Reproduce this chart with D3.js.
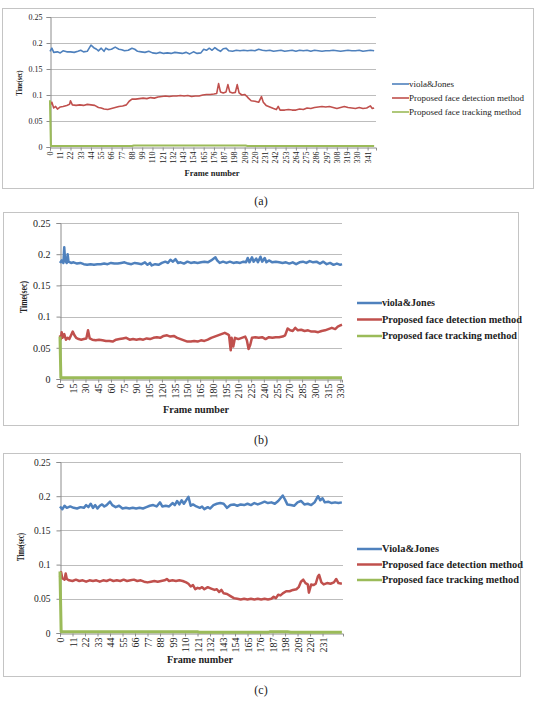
<!DOCTYPE html>
<html>
<head>
<meta charset="utf-8">
<script src="https://cdn.jsdelivr.net/npm/d3@7"></script>
<style>
  body { margin: 0; background: #fff; }
  svg { display: block; }
  text { font-family: "Liberation Serif", "Times New Roman", Times, "DejaVu Serif", serif; fill: #222; }
</style>
</head>
<body>
<svg id="fig" width="537" height="710"></svg>
<script>
// ---- data: [frame, time(sec)] ----
const seriesNames = ["viola&Jones", "Proposed face detection method", "Proposed face tracking method"];
const seriesNamesC = ["Viola&Jones", "Proposed face detection method", "Proposed face tracking method"];
const yTicks = [0, 0.05, 0.1, 0.15, 0.2, 0.25];

// panel (a)
const aTicks = d3.range(0, 342, 11);
const aBlue = [[0,0.184],[2,0.190],[4,0.182],[8,0.183],[11,0.181],[14,0.185],[18,0.183],[22,0.183],[26,0.182],[30,0.184],[33,0.186],[36,0.183],[40,0.184],[44,0.196],[47,0.191],[50,0.188],[52,0.185],[55,0.190],[58,0.184],[60,0.190],[63,0.187],[66,0.188],[70,0.192],[74,0.188],[77,0.187],[80,0.185],[84,0.186],[88,0.190],[91,0.188],[94,0.184],[98,0.183],[102,0.182],[106,0.184],[110,0.181],[114,0.180],[118,0.182],[122,0.180],[126,0.181],[130,0.180],[134,0.182],[138,0.181],[142,0.180],[146,0.182],[150,0.179],[154,0.183],[158,0.180],[162,0.181],[165,0.188],[168,0.186],[171,0.190],[174,0.186],[177,0.191],[180,0.187],[183,0.184],[186,0.189],[189,0.190],[192,0.185],[196,0.184],[200,0.186],[204,0.185],[208,0.186],[212,0.185],[216,0.186],[220,0.185],[224,0.188],[228,0.186],[232,0.185],[236,0.186],[240,0.184],[244,0.185],[248,0.186],[252,0.184],[256,0.185],[260,0.186],[264,0.184],[268,0.186],[272,0.185],[276,0.186],[280,0.184],[284,0.186],[288,0.185],[292,0.184],[296,0.185],[300,0.185],[304,0.186],[308,0.185],[312,0.184],[316,0.185],[320,0.186],[324,0.185],[328,0.185],[332,0.186],[336,0.184],[340,0.185],[344,0.186],[348,0.185]];
const aRed = [[0,0.080],[2,0.086],[4,0.075],[6,0.078],[8,0.073],[11,0.077],[14,0.078],[18,0.080],[21,0.082],[22,0.089],[24,0.081],[28,0.080],[32,0.081],[36,0.080],[40,0.082],[44,0.081],[48,0.080],[52,0.076],[55,0.075],[58,0.073],[62,0.072],[66,0.074],[70,0.076],[74,0.078],[78,0.079],[82,0.081],[85,0.088],[88,0.092],[92,0.092],[96,0.093],[100,0.094],[104,0.093],[108,0.095],[112,0.094],[116,0.096],[120,0.097],[124,0.098],[128,0.097],[132,0.098],[136,0.098],[140,0.099],[144,0.098],[148,0.099],[152,0.097],[156,0.098],[160,0.098],[164,0.100],[168,0.101],[172,0.101],[176,0.102],[179,0.103],[181,0.122],[183,0.106],[186,0.104],[189,0.106],[191,0.120],[193,0.106],[196,0.104],[199,0.105],[201,0.120],[203,0.104],[206,0.100],[209,0.101],[211,0.098],[213,0.094],[216,0.089],[220,0.088],[224,0.086],[227,0.097],[229,0.086],[232,0.080],[236,0.077],[240,0.074],[243,0.072],[245,0.078],[247,0.071],[252,0.071],[256,0.072],[260,0.071],[264,0.071],[268,0.073],[272,0.072],[276,0.075],[280,0.074],[284,0.076],[288,0.077],[292,0.078],[296,0.077],[300,0.078],[304,0.076],[308,0.074],[312,0.076],[316,0.078],[320,0.076],[324,0.075],[328,0.074],[332,0.076],[336,0.074],[340,0.075],[344,0.079],[346,0.074],[348,0.075]];
const aGreen = [[0,0.090],[1,0.002],[88,0.002],[90,0.003],[210,0.003],[212,0.002],[348,0.002]];

// panel (b)
const bTicks = d3.range(0, 331, 15);
const bBlue = [[0,0.186],[2,0.190],[4,0.186],[5,0.211],[6,0.190],[8,0.186],[9,0.200],[10,0.188],[13,0.186],[16,0.187],[20,0.185],[24,0.186],[28,0.184],[32,0.183],[36,0.184],[40,0.183],[44,0.184],[48,0.184],[52,0.185],[56,0.184],[60,0.186],[64,0.185],[68,0.185],[72,0.186],[76,0.187],[80,0.185],[84,0.184],[88,0.186],[92,0.185],[96,0.184],[100,0.187],[103,0.183],[106,0.186],[108,0.182],[112,0.184],[116,0.183],[120,0.186],[124,0.188],[127,0.186],[130,0.191],[133,0.188],[136,0.192],[139,0.186],[142,0.187],[146,0.185],[150,0.188],[154,0.186],[158,0.187],[162,0.186],[166,0.187],[170,0.188],[174,0.187],[178,0.190],[181,0.193],[183,0.195],[185,0.190],[188,0.186],[192,0.188],[196,0.186],[200,0.188],[204,0.186],[208,0.187],[212,0.186],[216,0.188],[219,0.187],[221,0.194],[223,0.187],[226,0.195],[228,0.188],[231,0.193],[233,0.187],[236,0.196],[238,0.188],[241,0.194],[243,0.187],[246,0.190],[250,0.187],[254,0.188],[258,0.187],[262,0.186],[266,0.187],[270,0.185],[274,0.187],[278,0.184],[282,0.187],[286,0.188],[290,0.186],[294,0.189],[298,0.187],[302,0.188],[306,0.185],[310,0.188],[314,0.184],[318,0.186],[322,0.183],[326,0.185],[330,0.183],[332,0.184]];
const bRed = [[0,0.070],[1,0.064],[2,0.075],[3,0.066],[5,0.072],[7,0.063],[9,0.066],[11,0.064],[13,0.070],[15,0.076],[17,0.070],[19,0.066],[22,0.064],[25,0.063],[28,0.064],[31,0.065],[33,0.078],[35,0.065],[38,0.063],[42,0.062],[46,0.063],[50,0.062],[54,0.061],[58,0.061],[62,0.060],[66,0.063],[70,0.064],[74,0.065],[78,0.066],[82,0.063],[86,0.064],[90,0.063],[94,0.064],[98,0.063],[102,0.065],[106,0.064],[110,0.066],[114,0.067],[118,0.066],[122,0.069],[126,0.070],[130,0.068],[134,0.069],[138,0.066],[142,0.064],[146,0.062],[150,0.060],[154,0.060],[158,0.061],[162,0.060],[166,0.062],[170,0.061],[174,0.063],[178,0.066],[182,0.068],[186,0.070],[190,0.072],[194,0.074],[197,0.072],[199,0.070],[201,0.046],[202,0.066],[204,0.052],[206,0.066],[210,0.064],[214,0.066],[218,0.068],[220,0.062],[222,0.048],[224,0.055],[226,0.066],[230,0.067],[234,0.066],[238,0.067],[242,0.064],[246,0.067],[250,0.066],[254,0.067],[258,0.067],[262,0.068],[265,0.070],[268,0.081],[271,0.078],[274,0.077],[277,0.082],[280,0.078],[284,0.079],[288,0.077],[292,0.078],[296,0.076],[300,0.076],[304,0.075],[308,0.077],[312,0.078],[316,0.080],[320,0.082],[324,0.080],[327,0.084],[330,0.086],[332,0.087]];
const bGreen = [[0,0.068],[1,0.002],[332,0.002]];

// panel (c)
const cTicks = d3.range(0, 232, 11);
const cBlue = [[0,0.185],[2,0.181],[4,0.186],[6,0.183],[9,0.185],[12,0.183],[15,0.182],[18,0.184],[21,0.183],[23,0.187],[25,0.184],[27,0.189],[29,0.183],[31,0.187],[33,0.182],[35,0.186],[37,0.188],[39,0.185],[41,0.187],[44,0.192],[46,0.187],[49,0.184],[52,0.186],[55,0.182],[58,0.183],[61,0.182],[64,0.183],[67,0.182],[70,0.183],[73,0.182],[76,0.184],[79,0.186],[82,0.187],[85,0.185],[88,0.191],[90,0.185],[93,0.186],[96,0.185],[99,0.190],[101,0.187],[103,0.193],[105,0.188],[107,0.194],[109,0.189],[113,0.199],[115,0.186],[117,0.188],[120,0.185],[123,0.183],[125,0.185],[127,0.181],[130,0.184],[132,0.182],[135,0.187],[138,0.189],[141,0.190],[144,0.189],[147,0.183],[150,0.187],[153,0.188],[156,0.186],[159,0.188],[162,0.187],[165,0.189],[168,0.187],[171,0.190],[174,0.188],[177,0.190],[180,0.192],[183,0.190],[186,0.191],[189,0.189],[192,0.193],[196,0.201],[198,0.195],[200,0.188],[203,0.187],[206,0.186],[209,0.191],[212,0.193],[215,0.188],[218,0.189],[221,0.187],[224,0.191],[227,0.200],[229,0.194],[231,0.197],[233,0.191],[236,0.192],[239,0.190],[242,0.191],[245,0.190],[248,0.191]];
const cRed = [[0,0.082],[1,0.089],[2,0.080],[4,0.078],[5,0.087],[6,0.079],[8,0.077],[11,0.076],[14,0.078],[17,0.076],[20,0.077],[23,0.075],[26,0.077],[29,0.076],[32,0.077],[35,0.075],[38,0.077],[41,0.076],[44,0.078],[47,0.076],[50,0.077],[53,0.076],[56,0.078],[59,0.076],[62,0.077],[65,0.078],[68,0.076],[71,0.077],[74,0.075],[77,0.074],[80,0.075],[83,0.076],[86,0.075],[89,0.076],[92,0.077],[94,0.079],[96,0.076],[99,0.077],[102,0.076],[105,0.077],[108,0.076],[111,0.074],[113,0.072],[115,0.068],[117,0.070],[119,0.064],[121,0.066],[123,0.065],[125,0.067],[127,0.064],[130,0.067],[133,0.065],[136,0.063],[138,0.064],[140,0.060],[142,0.063],[144,0.058],[147,0.057],[150,0.054],[153,0.051],[156,0.050],[159,0.049],[162,0.050],[165,0.049],[168,0.050],[171,0.049],[174,0.050],[177,0.049],[180,0.050],[183,0.049],[186,0.050],[188,0.053],[190,0.051],[192,0.056],[194,0.055],[196,0.058],[199,0.061],[202,0.061],[205,0.063],[208,0.064],[210,0.067],[212,0.075],[214,0.078],[216,0.073],[218,0.071],[219,0.059],[221,0.071],[223,0.070],[225,0.072],[227,0.083],[228,0.085],[230,0.074],[232,0.071],[235,0.073],[238,0.072],[241,0.074],[243,0.079],[245,0.073],[248,0.072]];
const cGreen = [[0,0.090],[1,0.002],[121,0.002],[123,0.001],[183,0.001],[185,0.002],[200,0.002],[203,0.001],[248,0.001]];

const colors = ["#4f81bd", "#c0504d", "#9bbb59"];
const serif = "'Liberation Serif', 'Times New Roman', Times, serif";

const svg = d3.select("#fig");

function drawPanel(p) {
  const g = svg.append("g");

  // outer frame
  g.append("rect")
    .attr("x", p.frame[0] + 0.5).attr("y", p.frame[1] + 0.5)
    .attr("width", p.frame[2] - p.frame[0]).attr("height", p.frame[3] - p.frame[1])
    .attr("fill", "none").attr("stroke", "#c4c4c4").attr("stroke-width", 1);

  const x = d3.scaleLinear().domain([0, p.maxFrame]).range([p.left, p.right]);
  const y = d3.scaleLinear().domain([0, 0.25]).range([p.bottom, p.top]);

  // gridlines
  g.append("g").selectAll("line")
    .data(yTicks.filter(d => d > 0))
    .join("line")
    .attr("x1", p.left).attr("x2", p.right)
    .attr("y1", d => Math.round(y(d)) + 0.5).attr("y2", d => Math.round(y(d)) + 0.5)
    .attr("stroke", "#bdbdbd").attr("stroke-width", 1);

  // y axis
  const yAxis = g.append("g")
    .attr("transform", `translate(${p.left + 0.5},0)`)
    .attr("font-family", serif)
    .call(d3.axisLeft(y).tickValues(yTicks).tickSize(4).tickPadding(p.yPad)
      .tickFormat(d => d === 0 ? "0" : String(+d.toFixed(2))));
  yAxis.attr("font-family", serif);
  yAxis.select(".domain").attr("stroke", "#8c8c8c");
  yAxis.selectAll(".tick line").attr("stroke", "#8c8c8c");
  yAxis.selectAll(".tick text")
    .attr("font-size", p.tickFont).attr("fill", "#222");

  // x axis (category ticks, rotated labels)
  const xAxis = g.append("g")
    .attr("transform", `translate(0,${p.bottom + 0.5})`)
    .call(d3.axisBottom(x).tickValues(p.ticks).tickSize(3).tickFormat(d => d));
  xAxis.attr("font-family", serif);
  xAxis.select(".domain").attr("stroke", "#8c8c8c");
  xAxis.selectAll(".tick line").attr("stroke", "#8c8c8c");
  xAxis.selectAll(".tick text")
    .attr("font-size", p.xTickFont).attr("fill", "#222")
    .attr("text-anchor", "end")
    .attr("dominant-baseline", "central")
    .attr("dy", null)
    .attr("y", 0)
    .attr("transform", "translate(0,4) rotate(-90)");

  // lines
  const line = d3.line().x(d => x(d[0])).y(d => y(d[1]));
  [p.blue, p.red, p.green].forEach((s, i) => {
    g.append("path")
      .datum(s)
      .attr("d", line)
      .attr("fill", "none")
      .attr("stroke", colors[i])
      .attr("stroke-width", i === 2 ? p.lw + 0.5 : p.lw)
      .attr("stroke-linejoin", "round");
  });

  // axis titles
  g.append("text")
    .attr("x", p.xTitle[0]).attr("y", p.xTitle[1])
    .attr("text-anchor", "middle")
    .attr("font-weight", "bold").attr("font-size", p.titleFont)
    .attr("textLength", p.xTitleLen).attr("lengthAdjust", "spacingAndGlyphs")
    .text("Frame number");

  g.append("text")
    .attr("transform", `translate(${p.yTitle[0]},${p.yTitle[1]}) rotate(-90)`)
    .attr("text-anchor", "middle").attr("dominant-baseline", "central")
    .attr("font-weight", "bold").attr("font-size", p.titleFont)
    .attr("textLength", p.yTitleLen).attr("lengthAdjust", "spacingAndGlyphs")
    .text("Time(sec)");

  // legend
  const leg = g.append("g");
  p.names.forEach((name, i) => {
    const ly = p.legY + i * p.legGap;
    leg.append("line")
      .attr("x1", p.legX0).attr("x2", p.legX1)
      .attr("y1", ly).attr("y2", ly)
      .attr("stroke", colors[i]).attr("stroke-width", p.lw);
    leg.append("text")
      .attr("x", p.legX1).attr("y", ly)
      .attr("dominant-baseline", "central")
      .attr("font-size", p.legFont).attr("font-weight", p.legWeight)
      .attr("textLength", p.legLens[i]).attr("lengthAdjust", "spacingAndGlyphs")
      .text(name);
  });

  // caption
  svg.append("text")
    .attr("x", 261).attr("y", p.caption[1])
    .attr("text-anchor", "middle").attr("dominant-baseline", "central")
    .attr("font-size", 12)
    .text(p.caption[0]);
}

drawPanel({
  frame: [2, 8, 533, 188], left: 50, right: 376, top: 17, bottom: 147, maxFrame: 350,
  ticks: aTicks, blue: aBlue, red: aRed, green: aGreen,
  tickFont: 8, xTickFont: 8, yPad: 4, lw: 1.6, titleFont: 8.5,
  xTitle: [212, 176], xTitleLen: 55, yTitle: [19, 83], yTitleLen: 25,
  names: seriesNames, legX0: 392, legX1: 409, legY: 84, legGap: 14,
  legFont: 7.5, legWeight: "normal", legLens: [45, 115, 112],
  caption: ["(a)", 201]
});

drawPanel({
  frame: [3, 212, 518, 425], left: 60, right: 342, top: 223, bottom: 379, maxFrame: 332,
  ticks: bTicks, blue: bBlue, red: bRed, green: bGreen,
  tickFont: 10, xTickFont: 10, yPad: 6, lw: 2.5, titleFont: 10,
  xTitle: [196, 413], xTitleLen: 66, yTitle: [23, 297], yTitleLen: 32,
  names: seriesNames, legX0: 357, legX1: 382, legY: 303, legGap: 16.5,
  legFont: 9.5, legWeight: "bold", legLens: [53, 140, 135],
  caption: ["(b)", 440]
});

drawPanel({
  frame: [3, 453, 520, 676], left: 60, right: 343, top: 462, bottom: 633, maxFrame: 249,
  ticks: cTicks, blue: cBlue, red: cRed, green: cGreen,
  tickFont: 9.5, xTickFont: 10, yPad: 6, lw: 2.5, titleFont: 9.5,
  xTitle: [200, 663], xTitleLen: 66, yTitle: [21, 547], yTitleLen: 28,
  names: seriesNamesC, legX0: 357, legX1: 382, legY: 549, legGap: 15.5,
  legFont: 9.5, legWeight: "bold", legLens: [57, 141, 137],
  caption: ["(c)", 690]
});
</script>
</body>
</html>
